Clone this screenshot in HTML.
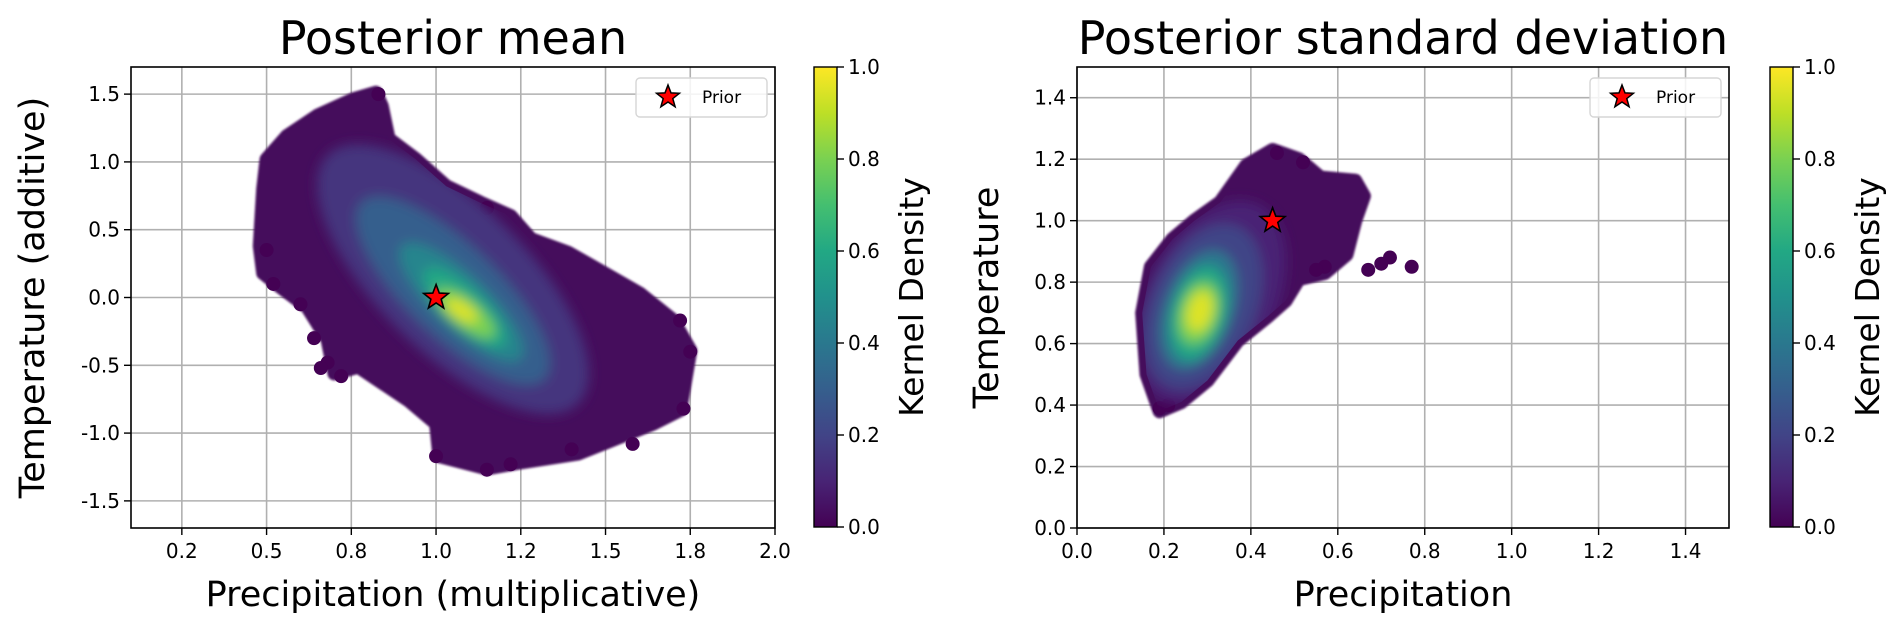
<!DOCTYPE html>
<html><head><meta charset="utf-8"><style>
html,body{margin:0;padding:0;background:#fff;}
svg{display:block;font-family:"DejaVu Sans","Liberation Sans",sans-serif;}
</style></head><body>
<svg id="fig" width="1892" height="631" viewBox="0 0 1892 631" xmlns="http://www.w3.org/2000/svg">
<defs>
<linearGradient id="viridis" x1="0" y1="1" x2="0" y2="0">
<stop offset="0" stop-color="#440154"/><stop offset="0.1" stop-color="#482475"/><stop offset="0.2" stop-color="#414487"/><stop offset="0.3" stop-color="#355f8d"/><stop offset="0.4" stop-color="#2a788e"/><stop offset="0.5" stop-color="#21918c"/><stop offset="0.6" stop-color="#22a884"/><stop offset="0.7" stop-color="#44bf70"/><stop offset="0.8" stop-color="#7ad151"/><stop offset="0.9" stop-color="#bddf26"/><stop offset="1" stop-color="#fde725"/>
</linearGradient>
<filter id="soft" x="-20%" y="-20%" width="140%" height="140%"><feGaussianBlur stdDeviation="6"/></filter>
<filter id="edge" x="-5%" y="-5%" width="110%" height="110%"><feGaussianBlur stdDeviation="1"/></filter>
</defs>
<g id="root"></g>
</svg>
<script>
// ---- Left panel data (Posterior mean) ----
const leftXTicks = [0.25, 0.5, 0.75, 1.0, 1.25, 1.5, 1.75, 2.0];
const leftXTickLabels = ["0.2","0.5","0.8","1.0","1.2","1.5","1.8","2.0"];
const leftYTicks = [-1.5,-1.0,-0.5,0.0,0.5,1.0,1.5];
const leftYTickLabels = ["-1.5","-1.0","-0.5","0.0","0.5","1.0","1.5"];
const leftOutlineX = [0.822,0.755,0.65,0.56,0.50,0.49,0.48,0.49,0.54,0.62,0.68,0.70,0.77,0.92,1.0,1.01,1.15,1.24,1.42,1.52,1.64,1.72,1.75,1.70,1.60,1.46,1.39,1.28,1.22,1.13,1.03,0.94,0.86,0.84];
const leftOutlineY = [1.51,1.46,1.34,1.19,1.02,0.80,0.38,0.18,0.08,-0.07,-0.31,-0.56,-0.51,-0.76,-0.93,-1.17,-1.26,-1.22,-1.15,-1.05,-0.93,-0.83,-0.39,-0.17,0.03,0.23,0.33,0.43,0.60,0.70,0.82,1.02,1.17,1.41];
const leftContourX1 = [0.68,0.78,0.90,0.97,1.00,1.03];
const leftContourY1 = [1.05,0.70,0.38,0.20,0.05,-0.02];
const leftContourX2 = [1.42,1.32,1.25,1.20,1.17,1.12];
const leftContourY2 = [-0.78,-0.60,-0.45,-0.35,-0.28,-0.17];
const leftContourDensity = [0.15,0.3,0.45,0.6,0.8,0.95];
const leftOutX = [0.68,0.66,0.72,1.72,1.75,1.73,1.58,1.0,1.15,1.22,1.40,0.50,0.52,0.97,1.15,0.83,0.60,0.64];
const leftOutY = [-0.48,-0.52,-0.58,-0.17,-0.40,-0.82,-1.08,-1.17,-1.27,-1.23,-1.12,0.35,0.10,0.82,0.66,1.50,-0.05,-0.30];
const leftPrior = [1.0, 0.0];

// ---- Right panel data (Posterior standard deviation) ----
const rightXTicks = [0.0,0.2,0.4,0.6,0.8,1.0,1.2,1.4];
const rightXTickLabels = ["0.0","0.2","0.4","0.6","0.8","1.0","1.2","1.4"];
const rightYTicks = [0.0,0.2,0.4,0.6,0.8,1.0,1.2,1.4];
const rightYTickLabels = ["0.0","0.2","0.4","0.6","0.8","1.0","1.2","1.4"];
const rightOutlineX = [0.19,0.16,0.15,0.17,0.22,0.27,0.33,0.39,0.45,0.51,0.56,0.64,0.66,0.64,0.62,0.57,0.51,0.48,0.44,0.37,0.30,0.24];
const rightOutlineY = [0.38,0.50,0.70,0.85,0.94,1.00,1.06,1.18,1.23,1.20,1.14,1.13,1.08,1.00,0.89,0.83,0.81,0.74,0.69,0.61,0.48,0.41];
const rightContourX1 = [0.42,0.37,0.33,0.31,0.30,0.295];
const rightContourY1 = [1.05,0.98,0.90,0.85,0.80,0.77];
const rightContourX2 = [0.19,0.21,0.23,0.25,0.26,0.27];
const rightContourY2 = [0.42,0.46,0.52,0.55,0.60,0.64];
const rightContourDensity = [0.1,0.2,0.4,0.6,0.8,0.95];
const rightOutX = [0.77,0.72,0.70,0.67,0.57,0.55,0.19,0.21,0.46,0.52];
const rightOutY = [0.85,0.88,0.86,0.84,0.85,0.84,0.39,0.40,1.22,1.19];
const rightPrior = [0.45, 1.0];

const cbTicks = [0.0,0.2,0.4,0.6,0.8,1.0];
const cbTickLabels = ["0.0","0.2","0.4","0.6","0.8","1.0"];

const NS = "http://www.w3.org/2000/svg";
const root = document.getElementById('root');
function mk(tag, attrs, parent){ const e=document.createElementNS(NS,tag); for(const k in attrs) e.setAttribute(k,attrs[k]); (parent||root).appendChild(e); return e; }

const VIR = [[68,1,84],[72,36,117],[65,68,135],[53,95,141],[42,120,142],[33,145,140],[34,168,132],[68,191,112],[122,209,81],[189,223,38],[253,231,37]];
function viridis(t){ t=Math.max(0,Math.min(1,t)); const f=t*10, i=Math.min(9,Math.floor(f)), r=f-i; const a=VIR[i], b=VIR[i+1]; return 'rgb('+a.map((v,k)=>Math.round(v+(b[k]-v)*r)).join(',')+')'; }

function starPath(cx,cy,R){ const r=R*0.42; let d=''; for(let i=0;i<10;i++){ const ang=-Math.PI/2+i*Math.PI/5; const rr=i%2?r:R; d+=(i?'L':'M')+(cx+rr*Math.cos(ang)).toFixed(1)+' '+(cy+rr*Math.sin(ang)).toFixed(1);} return d+'Z'; }

function panel(cfg){
  const {L,R,T,B,xmin,xmax,ymin,ymax} = cfg;
  const sx = v => L + (v-xmin)/(xmax-xmin)*(R-L);
  const sy = v => B - (v-ymin)/(ymax-ymin)*(B-T);
  const g = mk('g',{});
  
  
  const cp = mk('clipPath',{id:cfg.name+'-clip'},g); mk('rect',{x:L,y:T,width:R-L,height:B-T},cp);
  const pts = cfg.ox.map((x,i)=>sx(x).toFixed(1)+','+sy(cfg.oy[i]).toFixed(1)).join(' ');
  const cp2 = mk('clipPath',{id:cfg.name+'-cloud'},g); mk('polygon',{points:pts},cp2);
  // grid
  cfg.xTicks.forEach(v=>{ const l=mk('line',{x1:sx(v),x2:sx(v),y1:T,y2:B,stroke:'#b0b0b0','stroke-width':1.6},g);   });
  cfg.yTicks.forEach(v=>{ const l=mk('line',{x1:L,x2:R,y1:sy(v),y2:sy(v),stroke:'#b0b0b0','stroke-width':1.6},g);   });
  const cl = mk('g',{'clip-path':'url(#'+cfg.name+'-clip)'},g);
  const base = mk('polygon',{points:pts,fill:viridis(0.02),stroke:viridis(0.02),'stroke-width':14,'stroke-linejoin':'round',filter:'url(#edge)'},cl);
  
  
  cfg.outX.forEach((x,i)=>{ const c=mk('circle',{cx:sx(x),cy:sy(cfg.outY[i]),r:7,fill:viridis(0.0)},cl);
    
     });
  const dc = mk('g',{'clip-path':'url(#'+cfg.name+'-cloud)'},cl);
  const dg = mk('g',{filter:'url(#soft)'},dc);
  cfg.cx1.forEach((x1,i)=>{
    const X1=sx(x1),Y1=sy(cfg.cy1[i]),X2=sx(cfg.cx2[i]),Y2=sy(cfg.cy2[i]);
    const len=Math.hypot(X2-X1,Y2-Y1), ang=Math.atan2(Y2-Y1,X2-X1)*180/Math.PI;
    const e=mk('ellipse',{cx:(X1+X2)/2,cy:(Y1+Y2)/2,rx:len/2,ry:len/2*cfg.ratio[i],fill:viridis(cfg.cd[i]),transform:'rotate('+ang.toFixed(1)+' '+((X1+X2)/2).toFixed(1)+' '+((Y1+Y2)/2).toFixed(1)+')'},dg);
    
    
  });
  const st=mk('path',{d:starPath(sx(cfg.prior[0]),sy(cfg.prior[1]),13),fill:'#ff0000',stroke:'#000','stroke-width':1.6},g);
  
  
  const fr=mk('rect',{x:L,y:T,width:R-L,height:B-T,fill:'none',stroke:'#000','stroke-width':1.6},g);
  
  
  cfg.xTicks.forEach((v,i)=>{ mk('line',{x1:sx(v),x2:sx(v),y1:B,y2:B+7,stroke:'#000','stroke-width':1.4},g);
    const t=mk('text',{x:sx(v),y:B+30,'font-size':20,'text-anchor':'middle'},g); t.textContent=cfg.xLabels[i];
    
     });
  cfg.yTicks.forEach((v,i)=>{ mk('line',{x1:L-7,x2:L,y1:sy(v),y2:sy(v),stroke:'#000','stroke-width':1.4},g);
    const t=mk('text',{x:L-11,y:sy(v)+7,'font-size':20,'text-anchor':'end'},g); t.textContent=cfg.yLabels[i];
    
     });
  const tt=mk('text',{x:(L+R)/2,y:54,'font-size':46,'text-anchor':'middle'},g); tt.textContent=cfg.title;
  
  
  const xl=mk('text',{x:(L+R)/2,y:606,'font-size':35,'text-anchor':'middle'},g); xl.textContent=cfg.xTitle;
  
  
  const yl=mk('text',{x:0,y:0,'font-size':35,'text-anchor':'middle',transform:'translate('+cfg.yTitleX+' '+((T+B)/2)+') rotate(-90)'},g); yl.textContent=cfg.yTitle;
  
  
  const lg=mk('g',{},g);
  
  
  mk('rect',{x:R-139,y:78,width:131,height:39,rx:4,fill:'#fff','fill-opacity':0.85,stroke:'#d6d6d6','stroke-width':1.4},lg);
  mk('path',{d:starPath(R-107,97,12),fill:'#ff0000',stroke:'#000','stroke-width':1.5},lg);
  const lt=mk('text',{x:R-73,y:103,'font-size':17},lg); lt.textContent='Prior';
  
  
  const cb=mk('g',{},g);
  
  
  const cT=67, cB=527, cx0=cfg.cbX, cw=23;
  mk('rect',{x:cx0,y:cT,width:cw,height:cB-cT,fill:'url(#viridis)',stroke:'#000','stroke-width':1.4},cb);
  cbTicks.forEach((v,i)=>{ const y=cB-v*(cB-cT); mk('line',{x1:cx0+cw,x2:cx0+cw+7,y1:y,y2:y,stroke:'#000','stroke-width':1.4},cb);
    const t=mk('text',{x:cx0+cw+11,y:y+7,'font-size':20},cb); t.textContent=cbTickLabels[i];
    
     });
  const ct=mk('text',{x:0,y:0,'font-size':33,'text-anchor':'middle',transform:'translate('+(cx0+cw+86)+' '+((cT+cB)/2)+') rotate(-90)'},cb); ct.textContent='Kernel Density';
  
  
}

panel({name:'posterior-mean-panel',L:131,R:775,T:67,B:528,xmin:0.1,xmax:2.0,ymin:-1.7,ymax:1.7,
  xTicks:leftXTicks,xLabels:leftXTickLabels,yTicks:leftYTicks,yLabels:leftYTickLabels,
  ox:leftOutlineX,oy:leftOutlineY,cx1:leftContourX1,cy1:leftContourY1,cx2:leftContourX2,cy2:leftContourY2,cd:leftContourDensity,
  ratio:[0.42,0.36,0.32,0.34,0.38,0.45],outX:leftOutX,outY:leftOutY,prior:leftPrior,
  title:'Posterior mean',xTitle:'Precipitation (multiplicative)',yTitle:'Temperature (additive)',yTitleX:44,cbX:814});
panel({name:'posterior-std-panel',L:1077,R:1729,T:67,B:528,xmin:0,xmax:1.5,ymin:0,ymax:1.5,
  xTicks:rightXTicks,xLabels:rightXTickLabels,yTicks:rightYTicks,yLabels:rightYTickLabels,
  ox:rightOutlineX,oy:rightOutlineY,cx1:rightContourX1,cy1:rightContourY1,cx2:rightContourX2,cy2:rightContourY2,cd:rightContourDensity,
  ratio:[0.6,0.6,0.55,0.55,0.6,0.6],outX:rightOutX,outY:rightOutY,prior:rightPrior,
  title:'Posterior standard deviation',xTitle:'Precipitation',yTitle:'Temperature',yTitleX:998,cbX:1770});
</script>
</body></html>
